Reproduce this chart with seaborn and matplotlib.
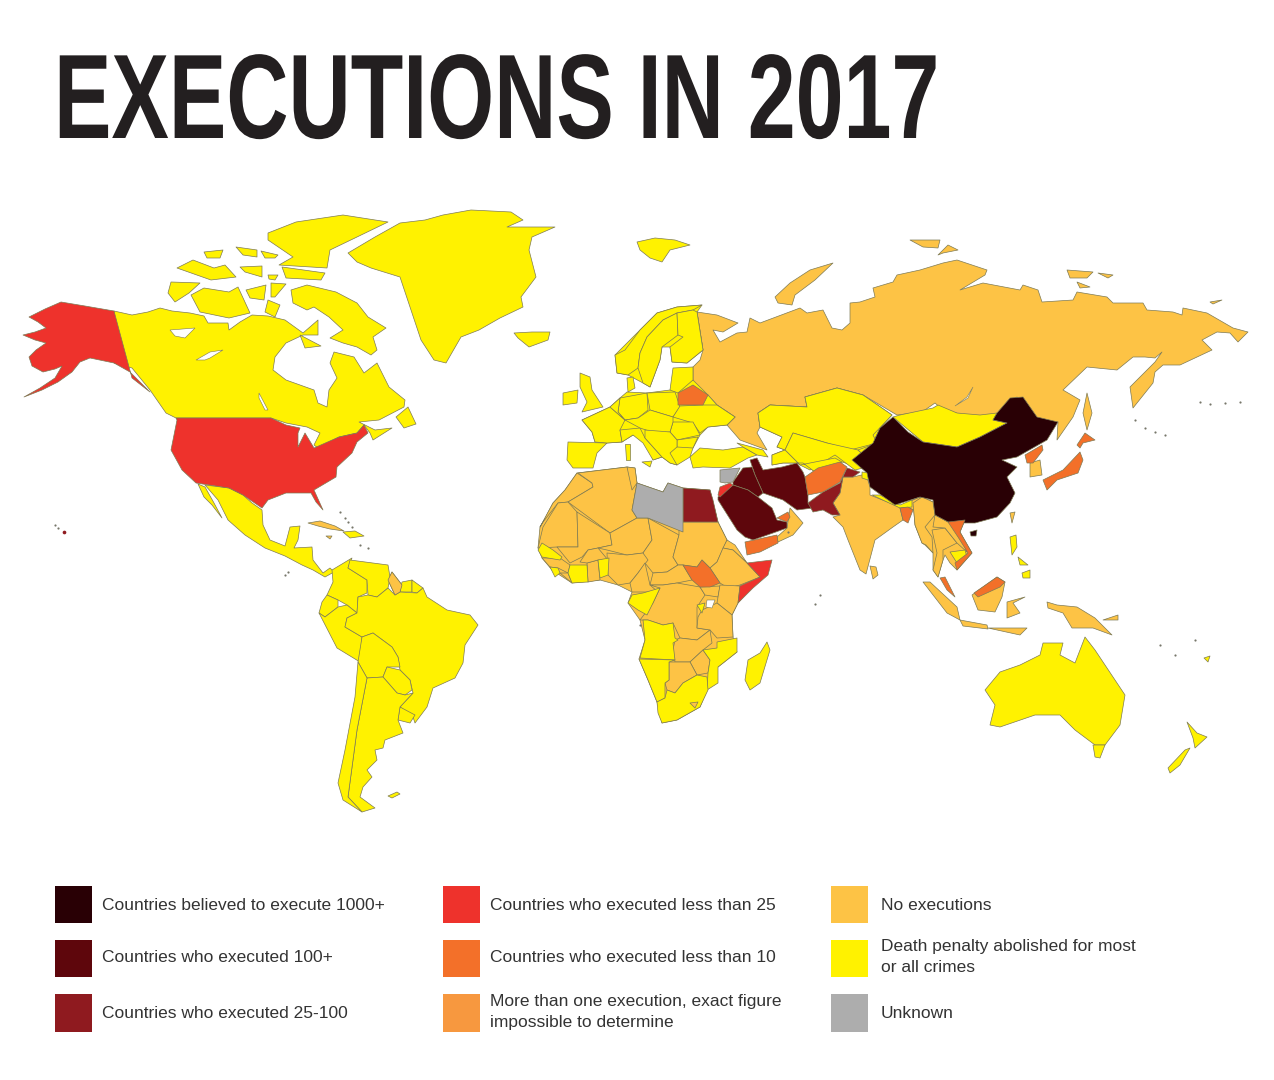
import matplotlib
matplotlib.use('Agg')
import matplotlib.pyplot as plt
import matplotlib.patheffects as pe
from matplotlib.transforms import Affine2D
import pandas as pd
import seaborn as sns

# Category names and colours
categories = ['Countries believed to execute 1000+', 'Countries who executed 100+', 'Countries who executed 25-100',
              'Countries who executed less than 25', 'Countries who executed less than 10',
              'More than one execution, exact figure\nimpossible to determine',
              'No executions', 'Death penalty abolished for most\nor all crimes', 'Unknown']
colours = ['#290005', '#5e060c', '#8f1a1f', '#ee322c', '#f37029', '#f7983f', '#fdc345', '#fff200', '#adadad']

# Outlines, in picture pixels
russia = [(697,312),(717,315),(738,323),(723,332),(713,330),(720,342),(737,333),(747,332),(750,318),(760,323),(800,308),(807,313),(823,310),(832,328),(842,330),(850,323),(850,303),(860,302),(875,297),(873,288),(893,282),(897,275),(920,270),(943,263),(957,260),(987,270),(985,275),(960,290),(983,283),(1020,290),(1023,285),(1038,290),(1042,302),(1073,300),(1077,292),(1107,297),(1113,303),(1143,303),(1147,310),(1173,312),(1182,315),(1183,308),(1207,313),(1233,328),(1248,332),(1238,342),(1230,333),(1217,332),(1202,340),(1212,350),(1180,365),(1163,365),(1155,372),(1153,383),(1133,408),(1130,387),(1140,377),(1155,362),(1162,352),(1155,358),(1145,357),(1133,357),(1117,370),(1087,367),(1063,390),(1080,400),(1073,417),(1057,440),(1058,422),(1045,427),(1030,417),(1017,397),(1008,403),(993,420),(973,417),(943,410),(935,403),(922,412),(897,415),(880,405),(863,395),(837,388),(805,397),(807,407),(770,405),(758,413),(760,427),(757,433),(767,450),(740,440),(727,425),(735,417),(717,405),(708,395),(693,385),(693,367),(700,360),(703,350)]
novaya = [(775,297),(790,283),(810,270),(833,263),(815,280),(795,295),(792,305),(778,303)]
severnaya = [(910,240),(940,240),(938,248),(923,247)]
severnaya2 = [(938,255),(948,245),(958,250),(943,253)]
siberian1 = [(1067,270),(1093,272),(1087,278),(1070,278)]
siberian2 = [(1098,273),(1113,275),(1108,278)]
siberian3 = [(1077,282),(1090,287),(1080,288)]
wrangel = [(1210,302),(1222,300),(1213,304)]
sakhalin = [(1087,393),(1092,413),(1087,430),(1083,413)]

africa_base = [(540,527),(543,522),(553,503),(565,490),(577,473),(627,467),(635,468),(637,483),(663,492),(668,483),(683,488),(710,490),(718,522),(727,540),(747,563),(760,577),(738,603),(732,615),(733,637),(737,652),(718,667),(707,690),(700,707),(677,720),(662,723),(657,702),(648,680),(639,659),(645,640),(640,620),(628,603),(632,592),(618,585),(600,580),(572,583),(552,570),(542,558),(538,548)]
morocco = [(577,473),(592,483),(593,487),(568,502),(558,503),(543,522),(540,527),(553,503),(565,490)]
algeria = [(578,473),(627,467),(637,483),(632,510),(637,518),(610,533),(568,502),(593,487),(592,483)]
tunisia = [(627,467),(635,468),(637,483),(632,490)]
mauritania = [(558,503),(568,502),(577,512),(578,547),(557,547),(538,548),(543,527)]
mali = [(577,512),(610,533),(612,545),(598,548),(588,550),(582,557),(570,563),(557,547),(578,547)]
niger = [(610,533),(637,518),(648,518),(652,540),(643,553),(627,555),(607,550),(598,548),(612,545)]
chad = [(648,518),(679,535),(673,557),(678,565),(667,572),(653,573),(645,563),(643,553),(652,540)]
sudan = [(679,522),(718,522),(727,540),(717,562),(710,568),(702,560),(697,567),(683,565),(678,565),(673,557),(679,535)]
eritrea = [(723,548),(727,540),(735,545),(747,563),(733,550)]
ethiopia = [(717,562),(723,548),(733,550),(747,563),(760,577),(740,585),(728,588),(720,583),(710,568)]
car = [(653,573),(667,572),(678,565),(683,565),(692,580),(677,583),(663,585),(650,585)]
nigeria = [(607,553),(627,555),(643,553),(648,560),(638,573),(630,583),(618,585),(608,575)]
cameroon = [(645,563),(650,585),(658,592),(632,592),(630,583),(638,573)]
drc = [(650,585),(663,585),(677,583),(700,587),(705,595),(697,607),(697,628),(710,630),(697,640),(680,638),(673,623),(663,625),(648,620),(640,620),(653,603),(660,588)]
uganda = [(700,587),(720,586),(718,597),(705,595)]
kenya = [(720,585),(740,586),(738,603),(732,615),(717,603),(718,597)]
tanzania = [(702,610),(717,603),(732,615),(733,637),(717,638),(710,630),(697,628),(698,617)]
zambia = [(675,640),(680,638),(697,640),(710,630),(712,643),(703,650),(690,662),(675,662),(673,650)]
zimbabwe = [(690,662),(703,650),(710,660),(708,673),(697,675)]
botswana = [(675,662),(690,662),(697,675),(683,683),(675,693),(667,690),(665,683),(669,680),(669,662)]
lesotho = [(690,703),(698,702),(695,708)]
guinea = [(542,558),(560,558),(570,565),(568,573),(558,568),(550,567)]
liberia = [(560,573),(568,573),(572,583)]
ghana = [(587,563),(598,560),(600,580),(588,582)]
burkina = [(580,562),(588,550),(598,548),(608,560),(598,560),(587,563)]
guyana = [(392,572),(402,585),(400,592),(395,595),(388,580)]
cuba = [(308,523),(320,521),(335,526),(344,531),(330,529),(318,526)]
jamaica = [(326,536),(332,536),(330,539)]

india = [(843,477),(853,477),(866,474),(870,487),(870,495),(900,507),(913,500),(920,497),(921,503),(913,510),(908,507),(900,508),(903,520),(893,527),(875,540),(866,574),(860,570),(848,540),(843,527),(833,517),(840,515),(833,503),(840,493)]
sri_lanka = [(870,566),(876,567),(878,575),(873,579)]
oman = [(777,537),(787,528),(790,508),(803,523),(793,535),(778,542)]
indochina_base = [(913,500),(922,497),(933,502),(935,515),(950,523),(965,520),(960,532),(972,553),(957,570),(950,563),(945,555),(943,560),(938,577),(933,570),(933,553),(925,545),(922,543),(915,525)]
myanmar = [(913,503),(922,497),(933,502),(935,515),(925,527),(932,537),(933,553),(926,545),(922,543),(915,525)]
thailand = [(932,530),(945,528),(957,543),(943,550),(943,560),(938,577),(933,570),(937,553)]
laos = [(935,515),(950,523),(960,535),(967,552),(957,543),(945,528),(933,527)]
south_korea = [(1030,463),(1040,460),(1042,475),(1030,477)]
taiwan = [(1010,513),(1015,512),(1012,523)]
borneo = [(972,595),(997,577),(1005,582),(1002,597),(995,612),(978,610)]
sumatra = [(923,582),(930,582),(957,607),(960,620),(947,613)]
java = [(960,620),(987,625),(988,629),(963,626)]
sunda = [(988,628),(1027,628),(1020,635)]
sulawesi = [(1007,602),(1025,597),(1013,603),(1020,613),(1007,618)]
new_guinea = [(1047,602),(1057,605),(1077,607),(1095,618),(1112,635),(1093,628),(1072,628),(1063,613),(1048,608)]
new_britain = [(1103,620),(1118,615),(1118,620)]

canada = [(114,311),(132,315),(148,312),(160,308),(172,311),(190,313),(204,316),(208,323),(228,323),(229,330),(240,322),(252,315),(268,316),(285,320),(303,333),(318,320),(318,335),(303,335),(286,343),(275,357),(273,370),(286,380),(314,390),(318,403),(327,407),(329,390),(337,378),(330,363),(334,352),(354,357),(364,373),(377,363),(389,387),(405,400),(404,407),(379,420),(359,422),(375,430),(392,428),(373,440),(370,433),(364,425),(357,433),(339,437),(318,448),(314,445),(320,433),(307,427),(286,423),(271,418),(176,418),(166,413),(150,390),(132,368),(114,363)]
baffin = [(291,290),(307,285),(336,292),(357,303),(368,317),(386,328),(373,337),(377,350),(371,355),(357,347),(343,343),(330,338),(343,330),(329,317),(314,307),(307,310),(293,303)]
victoria = [(191,295),(204,288),(229,292),(238,287),(250,313),(229,318),(200,312)]
banks = [(171,282),(200,283),(189,293),(175,302),(168,293)]
pow_island = [(246,290),(266,285),(264,300),(250,298)]
arctic_a = [(271,283),(286,284),(275,297),(271,297)]
somerset = [(268,300),(280,305),(275,317),(265,312)]
ellesmere = [(268,233),(296,222),(343,215),(388,222),(357,237),(330,250),(327,268),(279,265),(293,257),(268,240)]
devon = [(282,267),(325,273),(321,280),(286,278)]
melville = [(177,268),(193,260),(214,268),(225,265),(236,277),(211,280)]
patrick = [(204,252),(223,250),(220,258),(207,258)]
bathurst = [(236,247),(257,250),(257,257),(243,255)]
cornwallis = [(261,251),(278,255),(275,258),(265,258)]
arctic_b = [(240,267),(262,266),(262,277),(245,272)]
arctic_c = [(268,275),(278,275),(275,280),(269,279)]
southampton = [(300,335),(321,346),(305,348)]
newfoundland = [(396,417),(408,407),(416,424),(404,428)]
greenland = [(348,253),(375,237),(400,223),(425,220),(443,215),(471,210),(511,212),(523,220),(507,227),(555,227),(532,237),(529,250),(536,277),(521,297),(523,307),(500,318),(479,330),(461,337),(446,363),(434,360),(421,340),(412,313),(400,277),(371,268),(357,262)]
iceland = [(514,333),(532,332),(550,332),(548,340),(529,347),(518,338)]
svalbard = [(637,242),(655,238),(675,240),(690,245),(670,250),(662,262),(650,258),(640,250)]
mexico = [(205,485),(229,488),(243,495),(252,503),(262,510),(263,525),(270,540),(285,546),(290,527),(300,526),(298,540),(294,548),(312,547),(313,560),(323,573),(330,568),(334,572),(325,577),(313,570),(302,565),(285,556),(265,548),(245,535),(228,520),(218,500)]
baja = [(198,484),(205,487),(214,503),(222,518),(212,505),(204,497)]
hispaniola = [(343,532),(355,531),(364,536),(350,538)]

colombia = [(332,570),(352,558),(348,568),(367,580),(367,593),(358,597),(357,613),(347,605),(338,600),(327,595),(333,582)]
venezuela = [(350,560),(388,565),(390,577),(388,588),(377,597),(368,595),(367,580),(348,568)]
suriname = [(402,582),(412,580),(412,592),(400,592)]
fr_guiana = [(412,580),(423,588),(417,593),(412,592)]
ecuador = [(327,595),(338,600),(338,607),(325,617),(319,613),(322,602)]
peru = [(325,617),(338,607),(347,605),(357,613),(347,618),(345,627),(362,637),(360,662),(337,648),(319,613)]
brazil = [(358,597),(368,595),(377,597),(388,588),(395,595),(400,592),(417,593),(423,588),(427,597),(447,610),(470,615),(478,625),(465,645),(463,663),(455,678),(433,688),(427,707),(415,723),(413,717),(400,707),(413,693),(410,680),(400,670),(398,657),(392,647),(373,633),(362,637),(345,627),(347,618),(357,613)]
bolivia = [(362,637),(373,633),(392,647),(398,657),(400,667),(387,667),(383,677),(367,678),(358,662)]
paraguay = [(387,667),(400,670),(410,680),(412,690),(405,695),(397,693),(383,677)]
uruguay = [(400,707),(415,715),(410,723),(398,720)]
argentina = [(367,678),(383,677),(397,693),(405,695),(413,693),(400,707),(398,720),(403,733),(385,740),(383,748),(375,750),(377,760),(367,770),(372,777),(363,787),(360,797),(375,808),(362,812),(348,797),(357,730)]
chile = [(358,662),(367,678),(357,730),(348,797),(362,812),(343,800),(338,783),(345,750),(355,697)]
falklands = [(388,796),(397,792),(400,794),(392,798)]

senegal = [(542,543),(553,550),(562,557),(560,560),(542,557),(538,550)]
sierra_leone = [(550,567),(558,568),(560,573),(555,577)]
ivory_coast = [(570,565),(587,565),(588,582),(572,583),(568,573)]
togo_benin = [(598,560),(609,558),(608,575),(600,578)]
gabon_congo = [(632,595),(643,593),(660,588),(653,603),(647,615),(638,610),(628,603)]
rwanda = [(697,605),(705,603),(702,613)]
angola = [(643,620),(648,620),(663,625),(673,623),(675,638),(678,640),(673,643),(675,660),(640,658),(645,640)]
mozambique = [(717,642),(737,638),(737,652),(718,667),(718,683),(707,690),(708,673),(710,660),(703,650),(717,648)]
namibia = [(639,659),(675,660),(669,662),(669,680),(665,683),(665,698),(657,702),(648,680)]
south_africa = [(657,702),(665,698),(667,690),(675,693),(683,683),(697,675),(707,677),(708,690),(700,707),(677,720),(662,723),(658,713)]
madagascar = [(767,642),(770,650),(760,683),(750,690),(745,680),(748,660),(760,653)]

europe_base = [(582,420),(610,407),(620,398),(627,392),(647,393),(670,390),(693,380),(708,395),(717,405),(735,417),(727,425),(708,427),(700,435),(693,448),(690,457),(677,465),(670,463),(662,457),(653,460),(645,438),(633,435),(622,442),(607,443),(595,442),(592,432)]
scandinavia_base = [(615,355),(640,330),(657,313),(677,307),(702,305),(697,312),(703,350),(687,363),(672,362),(670,347),(662,347),(660,360),(650,387),(643,383),(628,375),(617,373)]
iberia = [(568,442),(607,443),(597,453),(593,468),(573,468),(567,460)]
france = [(582,420),(610,407),(625,420),(620,430),(622,442),(607,443),(595,442),(592,432)]
uk = [(580,373),(590,377),(592,390),(603,407),(582,412),(587,402),(580,387)]
ireland = [(563,393),(578,390),(577,403),(563,405)]
norway = [(615,355),(625,350),(640,330),(657,313),(677,307),(702,305),(693,310),(677,313),(663,320),(647,337),(640,353),(638,368),(628,375),(617,373)]
sweden = [(640,353),(647,337),(663,320),(677,313),(678,335),(662,347),(660,360),(650,387),(643,383),(638,368)]
finland = [(677,313),(693,310),(697,312),(703,350),(687,363),(672,362),(670,347),(683,337),(678,335)]
baltics = [(673,368),(693,367),(693,380),(678,393),(670,390)]
denmark = [(627,378),(633,377),(635,388),(628,392)]
germany = [(620,398),(647,393),(648,410),(638,418),(625,420),(618,412)]
benelux = [(610,407),(620,398),(618,412),(625,420)]
poland = [(647,393),(675,392),(680,407),(673,417),(650,410)]
ukraine = [(680,406),(703,405),(717,405),(735,417),(727,425),(708,427),(700,433),(693,423),(673,417)]
romania = [(673,422),(693,422),(700,435),(677,440),(670,432)]
bulgaria = [(677,440),(698,437),(693,448),(677,447)]
italy = [(620,430),(640,428),(645,438),(662,457),(653,460),(643,443),(633,435),(622,442)]
sicily = [(642,462),(652,461),(650,467)]
sardinia = [(625,444),(630,444),(630,460),(626,460)]
central_europe = [(638,418),(650,410),(673,417),(673,422),(670,432),(655,433),(640,428),(625,420)]
balkans = [(645,430),(670,432),(677,440),(677,447),(670,453),(677,465),(670,463),(662,457),(645,438)]
turkey = [(690,457),(700,448),(723,450),(743,447),(757,455),(748,458),(730,468),(703,467),(693,468)]
caucasus = [(737,443),(763,450),(768,457),(757,455),(743,447)]
asia_base = [(758,413),(770,405),(807,407),(805,397),(837,388),(863,395),(892,415),(880,428),(873,443),(893,450),(852,465),(842,462),(815,472),(803,463),(783,463),(772,465),(772,455),(785,450),(777,447),(782,437),(760,427)]
kazakhstan = [(758,413),(770,405),(807,407),(805,397),(837,388),(863,395),(892,415),(873,435),(877,443),(850,450),(827,443),(793,433),(785,450),(777,447),(782,437),(760,427)]
uzbekistan = [(785,450),(793,433),(827,443),(858,450),(875,465),(855,470),(835,455),(810,470),(800,465)]
kyrgyzstan = [(858,450),(877,443),(893,450),(880,462),(875,465)]
turkmenistan = [(772,455),(785,450),(800,465),(835,458),(842,462),(815,472),(803,463),(783,463),(772,465)]
mongolia = [(900,415),(933,408),(938,405),(957,413),(980,415),(997,413),(993,420),(1007,423),(980,437),(957,447),(923,442),(893,417)]
kashmir = [(862,472),(870,473),(868,480),(862,478)]
nepal = [(872,495),(880,495),(900,505),(912,500),(912,507),(900,508)]
cambodia = [(950,552),(965,550),(967,557),(957,563)]
luzon = [(1010,537),(1016,535),(1017,547),(1012,555)]
mindanao = [(1022,573),(1030,570),(1030,578),(1023,578)]
visayas = [(1018,557),(1028,565),(1020,565)]
australia = [(985,690),(1000,672),(1020,665),(1040,655),(1043,643),(1063,643),(1060,655),(1075,663),(1085,637),(1095,650),(1125,695),(1120,725),(1105,745),(1095,745),(1075,730),(1060,715),(1035,715),(1000,727),(990,725),(995,705)]
tasmania = [(1093,745),(1105,745),(1100,758),(1095,757)]
nz_north = [(1187,722),(1197,733),(1207,737),(1195,748),(1193,738)]
nz_south = [(1190,748),(1180,765),(1170,773),(1168,768),(1185,750)]
fiji = [(1204,658),(1210,656),(1208,662)]

china = [(893,417),(908,432),(923,442),(957,447),(980,437),(1007,423),(993,420),(997,413),(1010,398),(1023,397),(1037,417),(1058,422),(1047,440),(1017,457),(1002,460),(1017,467),(1007,477),(1015,493),(1010,503),(997,517),(975,523),(950,523),(935,515),(933,500),(920,497),(895,505),(870,487),(867,473),(852,460),(873,443),(880,428)]
hainan = [(970,532),(977,530),(976,536),(971,536)]

iran = [(750,460),(757,458),(763,470),(782,467),(797,463),(803,472),(805,477),(808,495),(808,503),(813,508),(797,510),(783,500),(763,493),(755,475)]
iraq = [(733,482),(743,468),(752,467),(755,475),(763,493),(758,497),(748,490),(733,485)]
saudi = [(718,497),(733,485),(748,490),(758,497),(772,508),(777,520),(787,522),(787,528),(773,533),(753,540),(745,537),(737,530),(718,500)]

egypt = [(683,488),(710,490),(713,500),(718,522),(683,522)]
pakistan = [(808,503),(823,492),(840,483),(847,468),(860,472),(853,477),(843,477),(840,493),(833,503),(840,515),(832,515),(823,510),(813,512)]

alaska = [(114,311),(85,306),(61,302),(45,309),(29,317),(38,322),(46,328),(35,332),(23,335),(35,340),(46,343),(36,350),(29,357),(32,366),(43,372),(55,369),(62,366),(55,378),(40,388),(24,397),(42,390),(58,382),(72,372),(80,362),(90,358),(114,363),(130,372),(140,382),(150,392),(132,378)]
usa = [(176,418),(271,418),(286,425),(300,428),(298,433),(298,447),(305,433),(314,448),(339,437),(357,433),(364,425),(368,433),(357,442),(352,453),(337,467),(336,477),(314,490),(323,510),(316,502),(311,493),(286,493),(268,500),(262,508),(243,495),(229,488),(196,483),(182,470),(171,450),(177,420)]
somalia = [(747,563),(772,560),(768,575),(753,588),(738,603),(740,586),(760,577)]
jordan = [(720,487),(730,483),(733,485),(720,497),(718,495)]

belarus = [(678,393),(693,385),(708,395),(703,405),(678,405)]
south_sudan = [(683,565),(697,567),(702,560),(710,568),(720,583),(710,587),(700,587),(692,580)]
yemen = [(745,542),(777,535),(778,543),(760,552),(747,555)]
uae = [(777,518),(788,512),(790,517),(787,522)]
afghanistan = [(805,477),(818,468),(840,462),(847,467),(840,482),(823,492),(808,495)]
bangladesh = [(900,508),(908,507),(913,510),(908,523),(903,520)]
north_korea = [(1025,455),(1042,445),(1043,450),(1033,463),(1027,463)]
honshu = [(1043,480),(1063,470),(1080,452),(1083,460),(1078,473),(1057,480),(1047,490)]
hokkaido = [(1077,445),(1085,433),(1095,440),(1083,443),(1080,448)]
vietnam = [(948,522),(965,520),(960,532),(972,553),(957,570),(955,563),(968,553),(958,537)]
malaya = [(940,578),(945,577),(955,597),(947,590)]
sarawak = [(974,593),(997,577),(1005,582),(1000,587),(978,597)]

libya = [(637,483),(663,492),(668,483),(683,488),(683,523),(683,532),(648,518),(637,518),(632,510)]
syria = [(720,470),(740,468),(733,482),(725,483),(720,482)]

# Water shown inside the land
great_bear = [(170,330),(195,328),(185,338),(175,336)]
great_slave = [(196,360),(210,352),(223,350),(210,358),(205,360)]
winnipeg = [(259,393),(268,410),(265,410),(259,398)]
baikal = [(973,387),(968,398),(955,406),(967,397)]
victoria_lake = [(707,600),(715,600),(712,608),(706,607)]

# Small islands (x, y) drawn as dots
island_x = [58,55,340,345,348,352,360,368,285,288,1135,1145,1155,1165,1200,1210,1225,1240,820,815,1160,1175,1195,640,788]
island_y = [528,525,512,518,522,527,545,548,575,572,420,428,432,435,402,404,403,402,595,604,645,655,640,625,532]

# Drawn in this order, later ones on top
land = [
    (6, [russia, novaya, severnaya, severnaya2, siberian1, siberian2, siberian3, wrangel, sakhalin]),
    (6, [africa_base, indochina_base]),
    (6, [morocco, algeria, tunisia, mauritania, mali, niger, chad, sudan, eritrea, ethiopia, car, nigeria, cameroon,
         drc, uganda, kenya, tanzania, zambia, zimbabwe, botswana, guinea, liberia, ghana, burkina, guyana, cuba, jamaica]),
    (6, [india, sri_lanka, oman, myanmar, thailand, laos, south_korea, taiwan, borneo, sumatra, java, sunda, sulawesi,
         new_guinea, new_britain]),
    (7, [canada, baffin, victoria, banks, pow_island, arctic_a, somerset, ellesmere, devon, melville, patrick, bathurst,
         cornwallis, arctic_b, arctic_c, southampton, newfoundland, greenland, iceland, svalbard, mexico, baja, hispaniola]),
    (7, [colombia, venezuela, suriname, fr_guiana, ecuador, peru, brazil, bolivia, paraguay, uruguay, argentina, chile, falklands]),
    (7, [senegal, sierra_leone, ivory_coast, togo_benin, gabon_congo, rwanda, angola, mozambique, namibia, south_africa, madagascar]),
    (7, [europe_base, scandinavia_base, asia_base]),
    (7, [iberia, france, uk, ireland, norway, sweden, finland, baltics, denmark, germany, benelux, poland, ukraine, romania,
         bulgaria, italy, sicily, sardinia, central_europe, balkans, turkey, caucasus, kazakhstan, uzbekistan, kyrgyzstan,
         turkmenistan, mongolia, kashmir, nepal, cambodia, luzon, mindanao, visayas, australia, tasmania, nz_north, nz_south, fiji]),
    (6, [lesotho, guyana]),
    (0, [china, hainan]),
    (1, [iran, iraq, saudi]),
    (2, [egypt, pakistan]),
    (3, [alaska, usa, somalia, jordan]),
    (4, [belarus, south_sudan, yemen, uae, afghanistan, bangladesh, north_korea, honshu, hokkaido, vietnam, malaya, sarawak]),
    (8, [libya, syria]),
]
lakes = [great_bear, great_slave, winnipeg, baikal, victoria_lake]


class StretchY(pe.AbstractPathEffect):
    # taller letters without wider ones, the title face here is much narrower than anything installed
    def __init__(self, y0, sy):
        super().__init__()
        self.y0 = y0
        self.sy = sy

    def draw_path(self, renderer, gc, tpath, affine, rgbFace=None):
        stretch = Affine2D().translate(0, -self.y0).scale(1, self.sy).translate(0, self.y0)
        renderer.draw_path(gc, tpath, affine + stretch, rgbFace)


sns.set_theme(style='white')
palette = sns.color_palette(colours)

fig = plt.figure(figsize=(12.74, 10.8), dpi=100, facecolor='white')
ax = fig.add_axes([0, 0, 1, 1])

for idx, shapes in land:
    for shape in shapes:
        xs, ys = zip(*shape)
        ax.fill(xs, ys, facecolor=palette[idx], edgecolor='#7d7a55', linewidth=0.5, joinstyle='round')
for shape in lakes:
    xs, ys = zip(*shape)
    ax.fill(xs, ys, facecolor='white', edgecolor='#7d7a55', linewidth=0.4)
ax.scatter(island_x, island_y, s=2.5, color='#77776a', linewidths=0)
ax.scatter([64], [532], s=7, color='#8f1a1f', linewidths=0)

# Legend squares
swatch_x = [73.5, 73.5, 73.5, 461.5, 461.5, 461.5, 849.5, 849.5, 849.5]
swatch_y = [904.5, 958.5, 1013, 904.5, 958.5, 1013, 904.5, 958.5, 1013]
legend_df = pd.DataFrame({'x': swatch_x, 'y': swatch_y, 'label': categories})
sns.scatterplot(data=legend_df, x='x', y='y', hue='label', hue_order=categories, palette=palette, marker='s',
                s=720, linewidth=0, legend=False, ax=ax)

text_x = [102, 102, 102, 490, 490, 490, 881, 881, 881]
text_y = [905, 958, 1014, 905, 958, 1012, 905, 957, 1013]
for label, tx, ty in zip(categories, text_x, text_y):
    ax.text(tx, ty, label, fontsize=12.5, family='Liberation Sans', color='#333333',
            va='center', ha='left', linespacing=1.42)

# 1080 - 138: baseline of the title in display pixels
ax.text(54, 138, 'EXECUTIONS IN 2017', fontsize=62, fontweight='bold', color='#231f20', va='baseline', ha='left',
        family='Liberation Sans', path_effects=[StretchY(1080 - 138, 1.395)])

ax.set_xlim(0, 1274)
ax.set_ylim(1080, 0)
ax.set_axis_off()
fig.savefig('out.png', dpi=100, facecolor='white')
